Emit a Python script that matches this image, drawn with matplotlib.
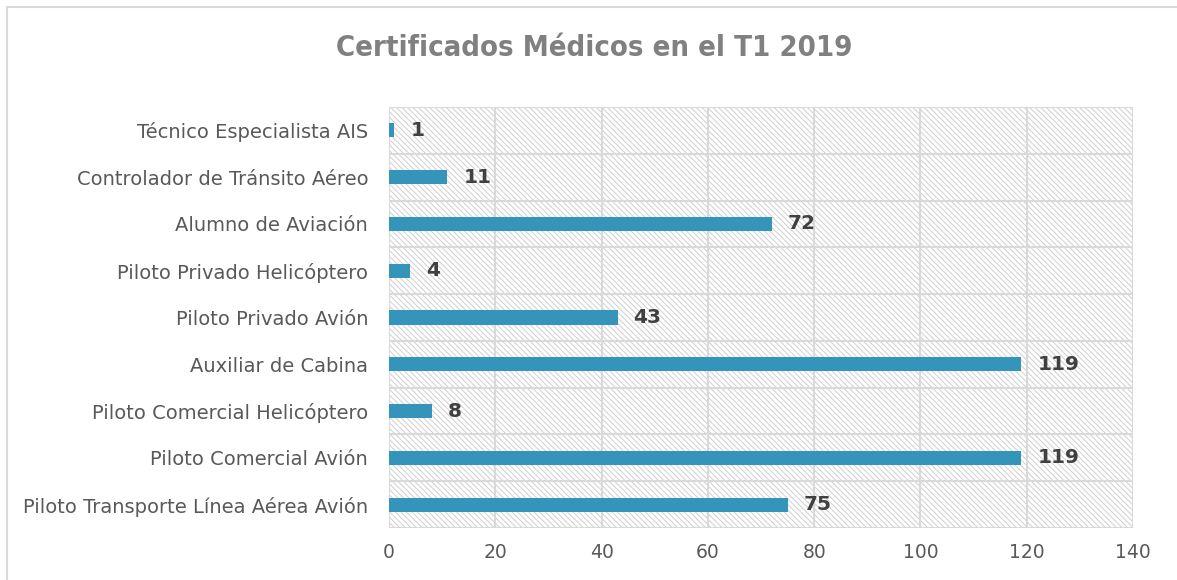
import matplotlib
matplotlib.use("Agg")
import matplotlib.pyplot as plt
from matplotlib.patches import Rectangle

# data, top to bottom as in the chart
categories = [
    "Técnico Especialista AIS",
    "Controlador de Tránsito Aéreo",
    "Alumno de Aviación",
    "Piloto Privado Helicóptero",
    "Piloto Privado Avión",
    "Auxiliar de Cabina",
    "Piloto Comercial Helicóptero",
    "Piloto Comercial Avión",
    "Piloto Transporte Línea Aérea Avión",
]
values = [1, 11, 72, 4, 43, 119, 8, 119, 75]
x_ticks = [0, 20, 40, 60, 80, 100, 120, 140]

plt.rcParams["hatch.color"] = "#cfcfcf"
plt.rcParams["hatch.linewidth"] = 0.7

fig = plt.figure(figsize=(11.77, 5.80), dpi=100)
ax = fig.add_axes([389 / 1177, 1 - 528 / 580, (1133 - 389) / 1177, (528 - 107) / 580])

# outer chart border (right and bottom edges fall outside the picture)
fig.patches.append(Rectangle((7 / 1177, -0.02), 1.05, 1 - 7 / 580 + 0.02,
                             transform=fig.transFigure, fill=False,
                             edgecolor="#d9d9d9", linewidth=1.5))

n = len(categories)
ypos = list(range(n - 1, -1, -1))

# hatched plot background
ax.add_patch(Rectangle((0, 0), 1, 1, transform=ax.transAxes, facecolor="white",
                       hatch="\\\\\\\\\\\\", edgecolor="#cfcfcf", linewidth=0, zorder=0))

ax.barh(ypos, values, height=0.3, color="#3494ba", zorder=3)

for y, v in zip(ypos, values):
    ax.text(v + 3, y, str(v), va="center", ha="left", fontsize=14.5,
            fontweight="bold", color="#404040", family="DejaVu Sans", zorder=4)

ax.set_xlim(0, 140)
ax.set_ylim(-0.5, n - 0.5)
ax.set_xticks(x_ticks)
ax.set_xticklabels([str(t) for t in x_ticks])
ax.set_yticks(ypos)
ax.set_yticklabels(categories)

# grid lines: vertical at ticks, horizontal between categories
for t in x_ticks:
    ax.axvline(t, color="#d9d9d9", linewidth=1.5, zorder=1)
for k in range(n + 1):
    ax.axhline(k - 0.5, color="#d9d9d9", linewidth=1.5, zorder=1)

for s in ax.spines.values():
    s.set_visible(False)
ax.tick_params(axis="both", length=0, labelsize=13.5, labelcolor="#595959")
ax.tick_params(axis="y", pad=15, labelsize=14)
ax.tick_params(axis="x", pad=11)

# narrow bold face for the title, like the condensed original
fig.text(594 / 1177, 1 - 56 / 580, "Certificados Médicos en el T1 2019", ha="center",
         va="baseline", fontsize=21, fontweight="bold", color="#808080",
         family=["Liberation Sans Narrow", "DejaVu Sans"], fontstretch="condensed")

fig.savefig("out.png", dpi=100)
